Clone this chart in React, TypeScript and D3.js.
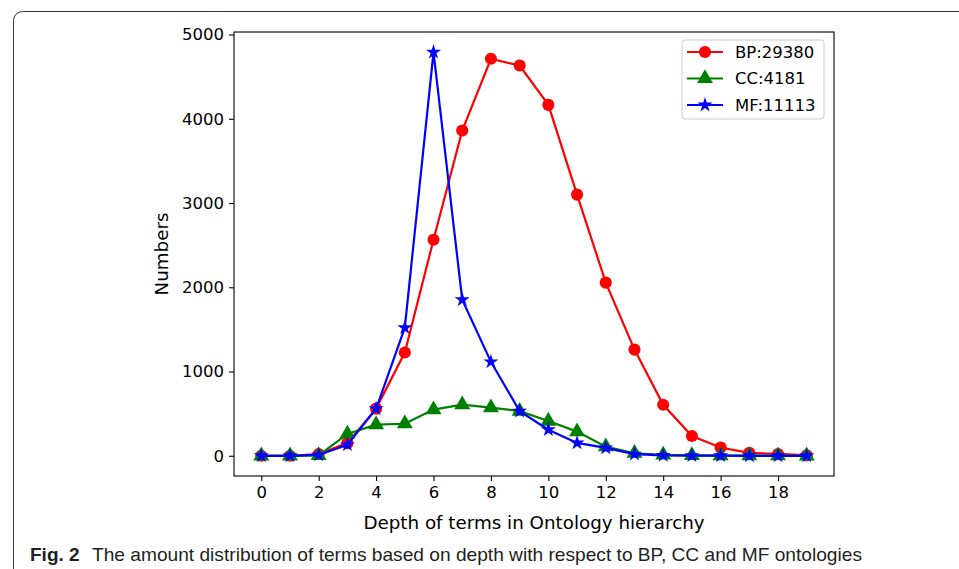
import { useRef, useEffect } from "react";
import * as d3 from "d3";

const depths = d3.range(0, 20);
const bpValues = [0, 0, 20, 150, 560, 1225, 2565, 3860, 4712, 4632, 4165, 3100, 2055, 1260, 605, 235, 98, 35, 22, 5];
const ccValues = [0, 0, 5, 260, 370, 380, 548, 607, 572, 530, 412, 287, 108, 30, 10, 5, 2, 1, 1, 0];
const mfValues = [0, 0, 10, 130, 558, 1520, 4790, 1852, 1115, 530, 310, 153, 94, 20, 5, 2, 1, 0, 0, 0];
const xTicks = [0, 2, 4, 6, 8, 10, 12, 14, 16, 18];
const yTicks = [0, 1000, 2000, 3000, 4000, 5000];
const seriesNames = ["BP:29380", "CC:4181", "MF:11113"];
const seriesColors = ["#ff0000", "#008000", "#0000ff"];

function App() {
  const svgRef = useRef<SVGSVGElement>(null);

  useEffect(() => {
    const w = 959;
    const h = 569;
    const svg = d3.select(svgRef.current);
    svg.selectAll("*").remove();

    // outer figure frame
    svg.append("rect")
      .attr("x", 13.5).attr("y", 11.5)
      .attr("width", 1000).attr("height", 700)
      .attr("rx", 9)
      .attr("fill", "white")
      .attr("stroke", "#333").attr("stroke-width", 1);

    const left = 234, right = 834, top = 32, bottom = 476;
    const x = d3.scaleLinear().domain([-0.95, 19.95]).range([left, right]);
    const y = d3.scaleLinear().domain([-240, 5030]).range([bottom, top]);

    const font = "DejaVu Sans, sans-serif";

    // axes
    const xAxis = d3.axisBottom(x).tickValues(xTicks).tickSize(5).tickPadding(5);
    const yAxis = d3.axisLeft(y).tickValues(yTicks).tickFormat(d3.format("d")).tickSize(5).tickPadding(5);
    const gx = svg.append("g").attr("transform", `translate(0, ${bottom})`).call(xAxis);
    const gy = svg.append("g").attr("transform", `translate(${left}, 0)`).call(yAxis);
    [gx, gy].forEach(g => {
      g.select(".domain").remove();
      g.selectAll("line").attr("stroke", "#000").attr("stroke-width", 1.1);
      g.selectAll("text").attr("font-family", font).attr("font-size", 16.5).attr("fill", "#000");
    });

    svg.append("rect")
      .attr("x", left).attr("y", top)
      .attr("width", right - left).attr("height", bottom - top)
      .attr("fill", "none").attr("stroke", "#000").attr("stroke-width", 1.1);

    const all = [bpValues, ccValues, mfValues];
    const symbols = [d3.symbolCircle, d3.symbolTriangle, d3.symbolStar];
    const sizes = [115, 110, 70];

    const line = d3.line<number>()
      .x((d, i) => x(depths[i]))
      .y(d => y(d));

    all.forEach((vals, k) => {
      const g = svg.append("g");
      g.append("path")
        .attr("d", line(vals))
        .attr("fill", "none")
        .attr("stroke", seriesColors[k])
        .attr("stroke-width", 2.2);
      g.selectAll("path.m")
        .data(vals)
        .join("path")
        .attr("class", "m")
        .attr("transform", (d, i) => `translate(${x(depths[i])}, ${y(d)})`)
        .attr("d", d3.symbol(symbols[k], sizes[k])())
        .attr("fill", seriesColors[k]);
    });

    // legend
    const lg = svg.append("g").attr("transform", "translate(682, 40)");
    lg.append("rect")
      .attr("width", 142).attr("height", 79).attr("rx", 3)
      .attr("fill", "white").attr("fill-opacity", 0.8)
      .attr("stroke", "#ccc");
    seriesNames.forEach((name, k) => {
      const yy = 12 + k * 26.5;
      lg.append("line")
        .attr("x1", 5).attr("x2", 41).attr("y1", yy).attr("y2", yy)
        .attr("stroke", seriesColors[k]).attr("stroke-width", 2.2);
      lg.append("path")
        .attr("transform", `translate(23, ${yy})`)
        .attr("d", d3.symbol(symbols[k], sizes[k])())
        .attr("fill", seriesColors[k]);
      lg.append("text")
        .attr("x", 53).attr("y", yy).attr("dy", "0.35em")
        .attr("font-family", font).attr("font-size", 16.5)
        .text(name);
    });

    // axis labels
    svg.append("text")
      .attr("x", (left + right) / 2).attr("y", 529)
      .attr("text-anchor", "middle")
      .attr("font-family", font).attr("font-size", 18.3)
      .text("Depth of terms in Ontology hierarchy");
    svg.append("text")
      .attr("transform", `translate(168, ${(top + bottom) / 2}) rotate(-90)`)
      .attr("text-anchor", "middle")
      .attr("font-family", font).attr("font-size", 18.3)
      .text("Numbers");

    // caption
    const capFont = "Liberation Sans Narrow, Liberation Sans, sans-serif";
    svg.append("text")
      .attr("x", 30).attr("y", 561)
      .attr("font-family", capFont).attr("font-weight", "bold")
      .attr("font-size", 19).attr("fill", "#231f20")
      .text("Fig. 2");
    svg.append("text")
      .attr("x", 92).attr("y", 561)
      .attr("font-family", capFont)
      .attr("font-size", 19).attr("fill", "#231f20")
      .attr("textLength", 770).attr("lengthAdjust", "spacingAndGlyphs")
      .text("The amount distribution of terms based on depth with respect to BP, CC and MF ontologies");

    svg.attr("width", w).attr("height", h);
  }, []);

  return (
    <svg ref={svgRef} width={959} height={569}
      style={{ position: "absolute", left: 0, top: 0, background: "white" }} />
  );
}

export default App;
